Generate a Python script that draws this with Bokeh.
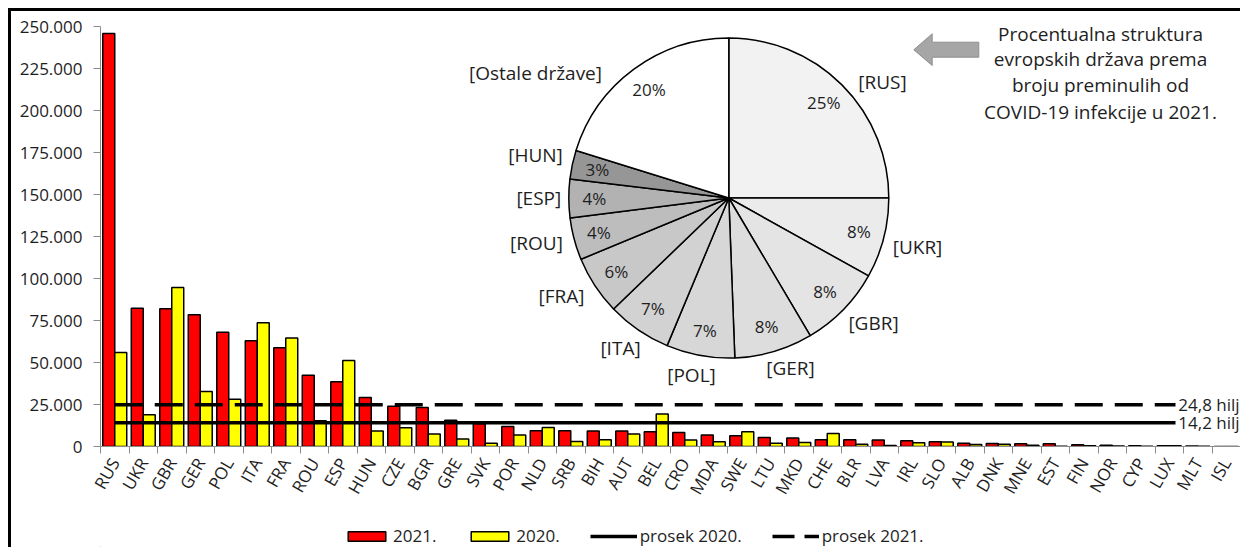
import math
from bokeh.plotting import figure
from bokeh.layouts import column
from bokeh.models import (Range1d, FixedTicker, ColumnDataSource, Legend, LegendItem)
from bokeh.core.properties import value
from bokeh.embed import file_html
from bokeh.resources import INLINE

# ---------------- data ----------------
countries = ["RUS", "UKR", "GBR", "GER", "POL", "ITA", "FRA", "ROU", "ESP", "HUN",
             "CZE", "BGR", "GRE", "SVK", "POR", "NLD", "SRB", "BIH", "AUT", "BEL",
             "CRO", "MDA", "SWE", "LTU", "MKD", "CHE", "BLR", "LVA", "IRL", "SLO",
             "ALB", "DNK", "MNE", "EST", "FIN", "NOR", "CYP", "LUX", "MLT", "ISL"]
deaths_2021 = [246000, 82400, 82000, 78500, 68100, 63000, 58800, 42500, 38500, 29200,
               24000, 23200, 15700, 13500, 11900, 9400, 9400, 9200, 9200, 8800,
               8400, 6800, 6400, 5400, 5000, 4000, 4000, 3800, 3400, 2900,
               2000, 1800, 1600, 1600, 1000, 800, 500, 500, 300, 50]
deaths_2020 = [56000, 18900, 94700, 32800, 28200, 73700, 64600, 15300, 51200, 9200,
               11200, 7400, 4400, 2000, 6800, 11300, 3000, 4000, 7400, 19300,
               3800, 2800, 8800, 2000, 2400, 7800, 1400, 600, 2200, 2700,
               1200, 1300, 700, 200, 500, 300, 100, 500, 200, 30]
avg_2020 = 14200
avg_2021 = 24800
avg_2021_label = "24,8 hiljada"
avg_2020_label = "14,2 hiljada"
y_ticks = list(range(0, 250001, 25000))

pie_names = ["[RUS]", "[UKR]", "[GBR]", "[GER]", "[POL]", "[ITA]", "[FRA]",
             "[ROU]", "[ESP]", "[HUN]", "[Ostale države]"]
pie_shares = [25.0, 8.1, 8.4, 7.9, 6.9, 6.5, 5.95, 4.25, 3.9, 2.9, 20.2]
pie_pct = ["25%", "8%", "8%", "8%", "7%", "7%", "6%", "4%", "4%", "3%", "20%"]
pie_colors = ["#f2f2f2", "#ebebeb", "#e4e4e4", "#dddddd", "#d7d7d7", "#d2d2d2",
              "#c8c8c8", "#bdbdbd", "#b2b2b2", "#969696", "#ffffff"]
title_lines = ["Procentualna struktura", "evropskih država prema",
               "broju preminulih od", "COVID-19 infekcije u 2021."]
legend_labels = ["2021.", "2020.", "prosek 2020.", "prosek 2021."]

# ---------------- layout ----------------
FONT = "Open Sans"
TXT = "#1e1e1e"
W, H1, H2 = 1229, 505, 31
FL = 89
frame_h = 435
FB = H1 - frame_h
frame_w = W - FL
cat_px = 28.5
x_end = frame_w / cat_px
y_end = 250000 * frame_h / 419.7
n = len(countries)

p = figure(width=W, height=H1, x_range=Range1d(0, x_end), y_range=Range1d(0, y_end),
           output_backend="svg", toolbar_location=None,
           min_border_left=FL, min_border_right=0, min_border_top=0, min_border_bottom=FB)
p.extra_x_ranges = {"px": Range1d(0, frame_w)}
p.extra_y_ranges = {"py": Range1d(0, frame_h)}
p.grid.visible = False
p.outline_line_color = None
p.background_fill_color = "white"
p.border_fill_color = "white"

# axes
xa = p.xaxis[0]
xa.ticker = FixedTicker(ticks=[i + 0.5 for i in range(n)], minor_ticks=[float(i) for i in range(n + 1)])
xa.major_label_overrides = {i + 0.5: c for i, c in enumerate(countries)}
xa.major_tick_out = 0
xa.major_tick_in = 0
xa.minor_tick_out = 7
xa.minor_tick_in = 0
xa.minor_tick_line_color = "#8c8c8c"
xa.axis_line_color = "#8c8c8c"
xa.major_label_orientation = math.pi / 3
xa.major_label_standoff = 6
xa.major_label_text_font = FONT
xa.major_label_text_font_size = "17px"
xa.major_label_text_color = TXT

ya = p.yaxis[0]
ya.ticker = FixedTicker(ticks=y_ticks, minor_ticks=[])
ya.major_label_overrides = {t: f"{t:,}".replace(",", ".") for t in y_ticks}
ya.bounds = (0, 250000)
ya.axis_line_color = "#8c8c8c"
ya.major_tick_line_color = "#8c8c8c"
ya.major_tick_out = 7
ya.major_tick_in = 0
ya.minor_tick_line_color = None
ya.major_label_standoff = 11
ya.major_label_text_font = FONT
ya.major_label_text_font_size = "17px"
ya.major_label_text_color = TXT

# bars
RED, YEL = "#ff0000", "#ffff00"
src = ColumnDataSource(dict(
    x21=[i + 0.29 for i in range(n)], x20=[i + 0.71 for i in range(n)],
    y21=deaths_2021, y20=deaths_2020))
p.vbar(x="x21", top="y21", width=0.42, source=src, fill_color=RED, line_color="black", line_width=1.5)
p.vbar(x="x20", top="y20", width=0.42, source=src, fill_color=YEL, line_color="black", line_width=1.5)

# average lines
line_end = (1175 - 100) / cat_px
p.line(x=[0.5, line_end], y=[avg_2020, avg_2020], line_color="black", line_width=3.5)
p.line(x=[0.5, line_end], y=[avg_2021, avg_2021], line_color="black", line_width=3.5, line_dash="28 12")
lab_x = line_end + 0.1
p.text(x=[lab_x, lab_x], y=[avg_2021, avg_2020], text=[avg_2021_label, avg_2020_label],
       text_font=value(FONT), text_font_size="17px", text_color=TXT,
       text_align="left", text_baseline="middle")

# pie (pixel coordinates relative to frame bottom-left)
cx, cy, R = 628.3, 248.5, 160.0
starts, ends, mids = [], [], []
cum = 0.0
for s in pie_shares:
    a0 = math.pi / 2 - 2 * math.pi * cum / 100
    cum += s
    a1 = math.pi / 2 - 2 * math.pi * cum / 100
    starts.append(a0)
    ends.append(a1)
    mids.append((a0 + a1) / 2)
psrc = ColumnDataSource(dict(start=starts, end=ends, color=pie_colors))
p.wedge(x=cx, y=cy, radius=R, start_angle="start", end_angle="end", direction="clock",
        fill_color="color", line_color="black", line_width=1.5, source=psrc,
        x_range_name="px", y_range_name="py")

pct_r = 0.84 * R
p.text(x=[cx + pct_r * math.cos(m) for m in mids], y=[cy + pct_r * math.sin(m) for m in mids],
       text=pie_pct, text_font=value(FONT), text_font_size="17px", text_color=TXT,
       text_align="center", text_baseline="middle", x_range_name="px", y_range_name="py")

name_offsets = [(153.7, -115.7), (188.7, 49.3), (144.7, 125.3), (61.7, 170.3), (-37.3, 177.3),
                (-108.3, 150.3), (-167.3, 98.3), (-192.3, 45.3), (-190.0, 0.0), (-193.3, -42.7),
                (-193.3, -124.7)]
p.text(x=[cx + dx for dx, dy in name_offsets], y=[cy - dy for dx, dy in name_offsets],
       text=pie_names, text_font=value(FONT), text_font_size="19px", text_color=TXT,
       text_align="center", text_baseline="middle", x_range_name="px", y_range_name="py")

# arrow
ax = [813.3, 831.7, 831.7, 878.3, 878.3, 831.7, 831.7]
ay = [49.3, 33.3, 41.7, 41.7, 56.7, 56.7, 65.0]
p.patch(x=ax, y=[446 - v for v in ay], fill_color="#a6a6a6", line_color="#8f8f8f",
        line_width=1, x_range_name="px", y_range_name="py")

# title block
title_y = [33, 58, 84, 111]
p.text(x=[1000] * 4, y=[446 - v for v in title_y], text=title_lines,
       text_font=value(FONT), text_font_size="19px", text_color=TXT,
       text_align="center", text_baseline="middle", x_range_name="px", y_range_name="py")

# legend strip (separate figure below the chart; sample glyphs sit outside its view)
q = figure(width=W, height=H2, x_range=Range1d(0, 1), y_range=Range1d(0, 1),
           output_backend="svg", toolbar_location=None, min_border=0)
q.axis.visible = False
q.grid.visible = False
q.outline_line_color = None
q.border_fill_color = "white"
off = [-10.0]
lr21 = q.vbar(x=off, top=off, width=0.1, fill_color=RED, line_color="black", line_width=1.5)
lr20 = q.vbar(x=off, top=off, width=0.1, fill_color=YEL, line_color="black", line_width=1.5)
la20 = q.line(x=off * 2, y=off * 2, line_color="black", line_width=3.5)
la21 = q.line(x=off * 2, y=off * 2, line_color="black", line_width=3.5, line_dash="22 10")
legend = Legend(items=[LegendItem(label=legend_labels[0], renderers=[lr21]),
                       LegendItem(label=legend_labels[1], renderers=[lr20]),
                       LegendItem(label=legend_labels[2], renderers=[la20]),
                       LegendItem(label=legend_labels[3], renderers=[la21])],
                location=(243, 0), orientation="horizontal",
                glyph_width=47, glyph_height=12, spacing=30, label_standoff=3,
                padding=0, margin=0, border_line_color=None, background_fill_alpha=0,
                label_text_font=FONT, label_text_font_size="17px", label_text_color=TXT)
q.add_layout(legend)

layout = column(p, q, spacing=0,
                styles={"margin-left": "8px", "margin-top": "8px",
                        "border-left": "3px solid black", "border-top": "3px solid black"})

open("out.html", "w").write(file_html(layout, INLINE))
